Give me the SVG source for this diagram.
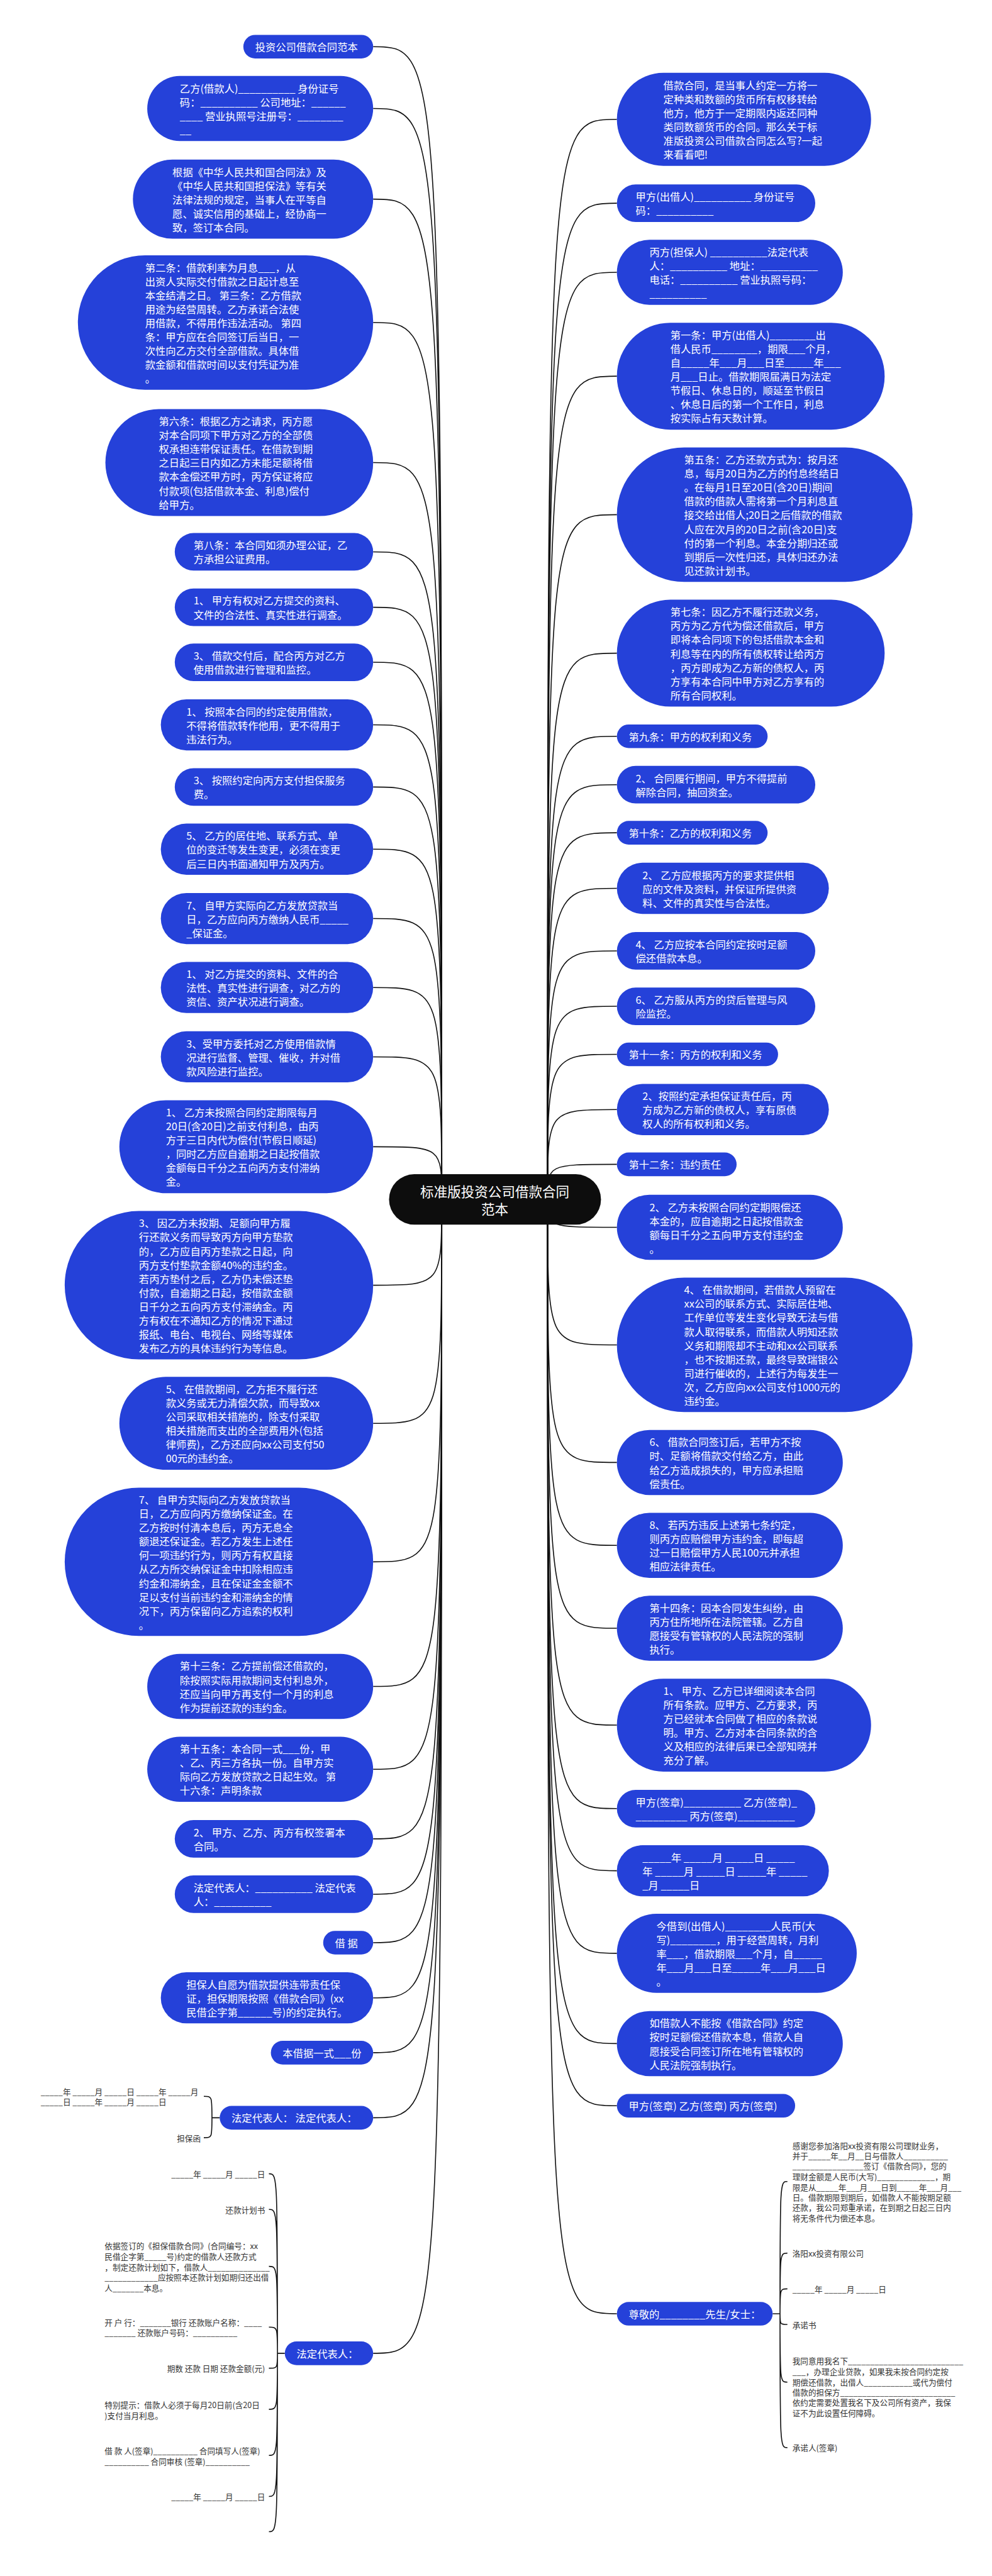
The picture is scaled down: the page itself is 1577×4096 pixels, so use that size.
<svg xmlns="http://www.w3.org/2000/svg" width="1577" height="4096" viewBox="0 0 1577 4096" xml:space="preserve">
<style>
.n{fill:#2541d9}
.r{fill:#0d0d0d}
.t{font-family:"Noto Sans CJK SC","Noto Sans",sans-serif;font-size:26.5px;fill:#fff;dominant-baseline:central}
.rt{font-family:"Noto Sans CJK SC","Noto Sans",sans-serif;font-size:35px;fill:#fff;dominant-baseline:central;text-anchor:middle}
.s{font-family:"Noto Sans CJK SC","Noto Sans",sans-serif;font-size:20.5px;fill:#333;dominant-baseline:central}
.e{text-anchor:end}
.c{fill:none;stroke:#111;stroke-width:2.6}
</style>
<rect width="1577" height="4096" fill="#fff"/>
<g transform="scale(0.616)">
<g id="connectors" class="c">
<path d="M1140 3096C1140 120.5 1140 120.5 963 120.5"/>
<path d="M1140 3096C1140 280 1140 280 963 280"/>
<path d="M1140 3096C1140 514 1140 514 963 514"/>
<path d="M1140 3096C1140 832.5 1140 832.5 963 832.5"/>
<path d="M1140 3096C1140 1194 1140 1194 963 1194"/>
<path d="M1140 3096C1140 1424.5 1140 1424.5 963 1424.5"/>
<path d="M1140 3096C1140 1567.5 1140 1567.5 963 1567.5"/>
<path d="M1140 3096C1140 1709.5 1140 1709.5 963 1709.5"/>
<path d="M1140 3096C1140 1871 1140 1871 963 1871"/>
<path d="M1140 3096C1140 2031.5 1140 2031.5 963 2031.5"/>
<path d="M1140 3096C1140 2192 1140 2192 963 2192"/>
<path d="M1140 3096C1140 2371 1140 2371 963 2371"/>
<path d="M1140 3096C1140 2549 1140 2549 963 2549"/>
<path d="M1140 3096C1140 2728 1140 2728 963 2728"/>
<path d="M1140 3096C1140 2960 1140 2960 963 2960"/>
<path d="M1140 3096C1140 3317.5 1140 3317.5 963 3317.5"/>
<path d="M1140 3096C1140 3674 1140 3674 963 3674"/>
<path d="M1140 3096C1140 4031.5 1140 4031.5 963 4031.5"/>
<path d="M1140 3096C1140 4353 1140 4353 963 4353"/>
<path d="M1140 3096C1140 4567 1140 4567 963 4567"/>
<path d="M1140 3096C1140 4746.5 1140 4746.5 963 4746.5"/>
<path d="M1140 3096C1140 4889.5 1140 4889.5 963 4889.5"/>
<path d="M1140 3096C1140 5014.5 1140 5014.5 963 5014.5"/>
<path d="M1140 3096C1140 5157 1140 5157 963 5157"/>
<path d="M1140 3096C1140 5298.5 1140 5298.5 963 5298.5"/>
<path d="M1140 3096C1140 5466.5 1140 5466.5 963 5466.5"/>
<path d="M1140 3096C1140 6074.5 1140 6074.5 963 6074.5"/>
<path d="M1413 3096C1413 308 1413 308 1592 308"/>
<path d="M1413 3096C1413 524.5 1413 524.5 1592 524.5"/>
<path d="M1413 3096C1413 703 1413 703 1592 703"/>
<path d="M1413 3096C1413 971 1413 971 1592 971"/>
<path d="M1413 3096C1413 1328.5 1413 1328.5 1592 1328.5"/>
<path d="M1413 3096C1413 1686 1413 1686 1592 1686"/>
<path d="M1413 3096C1413 1900.5 1413 1900.5 1592 1900.5"/>
<path d="M1413 3096C1413 2025.5 1413 2025.5 1592 2025.5"/>
<path d="M1413 3096C1413 2149.5 1413 2149.5 1592 2149.5"/>
<path d="M1413 3096C1413 2293 1413 2293 1592 2293"/>
<path d="M1413 3096C1413 2454.5 1413 2454.5 1592 2454.5"/>
<path d="M1413 3096C1413 2597.5 1413 2597.5 1592 2597.5"/>
<path d="M1413 3096C1413 2721.5 1413 2721.5 1592 2721.5"/>
<path d="M1413 3096C1413 2864 1413 2864 1592 2864"/>
<path d="M1413 3096C1413 3005.5 1413 3005.5 1592 3005.5"/>
<path d="M1413 3096C1413 3168 1413 3168 1592 3168"/>
<path d="M1413 3096C1413 3471.5 1413 3471.5 1592 3471.5"/>
<path d="M1413 3096C1413 3775 1413 3775 1592 3775"/>
<path d="M1413 3096C1413 3989 1413 3989 1592 3989"/>
<path d="M1413 3096C1413 4203 1413 4203 1592 4203"/>
<path d="M1413 3096C1413 4453 1413 4453 1592 4453"/>
<path d="M1413 3096C1413 4668.5 1413 4668.5 1592 4668.5"/>
<path d="M1413 3096C1413 4829 1413 4829 1592 4829"/>
<path d="M1413 3096C1413 5042 1413 5042 1592 5042"/>
<path d="M1413 3096C1413 5275 1413 5275 1592 5275"/>
<path d="M1413 3096C1413 5435.5 1413 5435.5 1592 5435.5"/>
<path d="M1413 3096C1413 5972.5 1413 5972.5 1592 5972.5"/>
<path d="M567 5466.5H547M547 5466.5C547 5411 547 5411 526 5411M547 5466.5C547 5518 547 5518 526 5518"/>
<path d="M735 6074.5H716M716 6074.5C716 5611 716 5611 694 5611M716 6074.5C716 5703 716 5703 694 5703M716 6074.5C716 5850 716 5850 694 5850M716 6074.5C716 6007 716 6007 694 6007M716 6074.5C716 6113 716 6113 694 6113M716 6074.5C716 6219 716 6219 694 6219M716 6074.5C716 6338 716 6338 694 6338M716 6074.5C716 6444 716 6444 694 6444M716 6074.5C716 6535 716 6535 694 6535"/>
<path d="M1994 5972.5H2013M2013 5972.5C2013 5631 2013 5631 2032 5631M2013 5972.5C2013 5816 2013 5816 2032 5816M2013 5972.5C2013 5908 2013 5908 2032 5908M2013 5972.5C2013 6000 2013 6000 2032 6000M2013 5972.5C2013 6149 2013 6149 2032 6149M2013 5972.5C2013 6318 2013 6318 2032 6318"/>
</g>
<g id="root"><rect class="r" x="1004" y="3031" width="547" height="130" rx="65"/><text class="rt"><tspan x="1277" y="3073">标准版投资公司借款合同</tspan><tspan x="1277" y="3119">范本</tspan></text></g>
<g id="L1"><rect class="n" x="628" y="90" width="335" height="61" rx="30.5"/><text class="t"><tspan x="658.5" y="120.5"> 投资公司借款合同范本</tspan></text></g>
<g id="L2"><rect class="n" x="380" y="196" width="583" height="168" rx="84"/><text class="t"><tspan x="464" y="226.5"> 乙方(借款人)__________ 身份证号</tspan><tspan x="464" y="262.3">码：__________ 公司地址：______</tspan><tspan x="464" y="298.1">____ 营业执照号注册号：________</tspan><tspan x="464" y="333.9">__</tspan></text></g>
<g id="L3"><rect class="n" x="343" y="412" width="620" height="204" rx="102"/><text class="t"><tspan x="445" y="442.5"> 根据《中华人民共和国合同法》及</tspan><tspan x="445" y="478.3">《中华人民共和国担保法》等有关</tspan><tspan x="445" y="514.1">法律法规的规定，当事人在平等自</tspan><tspan x="445" y="549.9">愿、诚实信用的基础上，经协商一</tspan><tspan x="445" y="585.7">致，签订本合同。</tspan></text></g>
<g id="L4"><rect class="n" x="201" y="659" width="762" height="347" rx="173.5"/><text class="t"><tspan x="374.5" y="689.5"> 第二条：借款利率为月息___，从</tspan><tspan x="374.5" y="725.3">出资人实际交付借款之日起计息至</tspan><tspan x="374.5" y="761.1">本金结清之日。 第三条：乙方借款</tspan><tspan x="374.5" y="796.9">用途为经营周转。乙方承诺合法使</tspan><tspan x="374.5" y="832.7">用借款，不得用作违法活动。 第四</tspan><tspan x="374.5" y="868.5">条：甲方应在合同签订后当日，一</tspan><tspan x="374.5" y="904.3">次性向乙方交付全部借款。具体借</tspan><tspan x="374.5" y="940.1">款金额和借款时间以支付凭证为准</tspan><tspan x="374.5" y="975.9">。</tspan></text></g>
<g id="L5"><rect class="n" x="272" y="1056" width="691" height="276" rx="138"/><text class="t"><tspan x="410" y="1086.5"> 第六条：根据乙方之请求，丙方愿</tspan><tspan x="410" y="1122.3">对本合同项下甲方对乙方的全部债</tspan><tspan x="410" y="1158.1">权承担连带保证责任。在借款到期</tspan><tspan x="410" y="1193.9">之日起三日内如乙方未能足额将借</tspan><tspan x="410" y="1229.7">款本金偿还甲方时，丙方保证将应</tspan><tspan x="410" y="1265.5">付款项(包括借款本金、利息)偿付</tspan><tspan x="410" y="1301.3">给甲方。</tspan></text></g>
<g id="L6"><rect class="n" x="451" y="1376" width="512" height="97" rx="48.5"/><text class="t"><tspan x="499.5" y="1406.5"> 第八条：本合同如须办理公证，乙</tspan><tspan x="499.5" y="1442.3">方承担公证费用。</tspan></text></g>
<g id="L7"><rect class="n" x="451" y="1519" width="512" height="97" rx="48.5"/><text class="t"><tspan x="499.5" y="1549.5"> 1、 甲方有权对乙方提交的资料、</tspan><tspan x="499.5" y="1585.3">文件的合法性、真实性进行调查。</tspan></text></g>
<g id="L8"><rect class="n" x="451" y="1661" width="512" height="97" rx="48.5"/><text class="t"><tspan x="499.5" y="1691.5"> 3、 借款交付后，配合丙方对乙方</tspan><tspan x="499.5" y="1727.3">使用借款进行管理和监控。</tspan></text></g>
<g id="L9"><rect class="n" x="415" y="1805" width="548" height="132" rx="66"/><text class="t"><tspan x="481" y="1835.5"> 1、 按照本合同的约定使用借款，</tspan><tspan x="481" y="1871.3">不得将借款转作他用，更不得用于</tspan><tspan x="481" y="1907.1">违法行为。</tspan></text></g>
<g id="L10"><rect class="n" x="451" y="1983" width="512" height="97" rx="48.5"/><text class="t"><tspan x="499.5" y="2013.5"> 3、 按照约定向丙方支付担保服务</tspan><tspan x="499.5" y="2049.3">费。</tspan></text></g>
<g id="L11"><rect class="n" x="415" y="2126" width="548" height="132" rx="66"/><text class="t"><tspan x="481" y="2156.5"> 5、 乙方的居住地、联系方式、单</tspan><tspan x="481" y="2192.3">位的变迁等发生变更，必须在变更</tspan><tspan x="481" y="2228.1">后三日内书面通知甲方及丙方。</tspan></text></g>
<g id="L12"><rect class="n" x="415" y="2305" width="548" height="132" rx="66"/><text class="t"><tspan x="481" y="2335.5"> 7、 自甲方实际向乙方发放贷款当</tspan><tspan x="481" y="2371.3">日，乙方应向丙方缴纳人民币_____</tspan><tspan x="481" y="2407.1">_保证金。</tspan></text></g>
<g id="L13"><rect class="n" x="415" y="2483" width="548" height="132" rx="66"/><text class="t"><tspan x="481" y="2513.5"> 1、 对乙方提交的资料、文件的合</tspan><tspan x="481" y="2549.3">法性、真实性进行调查，对乙方的</tspan><tspan x="481" y="2585.1">资信、资产状况进行调查。</tspan></text></g>
<g id="L14"><rect class="n" x="415" y="2662" width="548" height="132" rx="66"/><text class="t"><tspan x="481" y="2692.5"> 3、受甲方委托对乙方使用借款情</tspan><tspan x="481" y="2728.3">况进行监督、管理、催收，并对借</tspan><tspan x="481" y="2764.1">款风险进行监控。</tspan></text></g>
<g id="L15"><rect class="n" x="308" y="2840" width="655" height="240" rx="120"/><text class="t"><tspan x="428" y="2870.5"> 1、 乙方未按照合同约定期限每月</tspan><tspan x="428" y="2906.3">20日(含20日)之前支付利息，由丙</tspan><tspan x="428" y="2942.1">方于三日内代为偿付(节假日顺延)</tspan><tspan x="428" y="2977.9">，同时乙方应自逾期之日起按借款</tspan><tspan x="428" y="3013.7">金额每日千分之五向丙方支付滞纳</tspan><tspan x="428" y="3049.5">金。</tspan></text></g>
<g id="L16"><rect class="n" x="167" y="3126" width="796" height="383" rx="191.5"/><text class="t"><tspan x="358.5" y="3156.5"> 3、 因乙方未按期、足额向甲方履</tspan><tspan x="358.5" y="3192.3">行还款义务而导致丙方向甲方垫款</tspan><tspan x="358.5" y="3228.1">的，乙方应自丙方垫款之日起，向</tspan><tspan x="358.5" y="3263.9">丙方支付垫款金额40%的违约金。</tspan><tspan x="358.5" y="3299.7">若丙方垫付之后，乙方仍未偿还垫</tspan><tspan x="358.5" y="3335.5">付款，自逾期之日起，按借款金额</tspan><tspan x="358.5" y="3371.3">日千分之五向丙方支付滞纳金。丙</tspan><tspan x="358.5" y="3407.1">方有权在不通知乙方的情况下通过</tspan><tspan x="358.5" y="3442.9">报纸、电台、电视台、网络等媒体</tspan><tspan x="358.5" y="3478.7">发布乙方的具体违约行为等信息。</tspan></text></g>
<g id="L17"><rect class="n" x="308" y="3554" width="655" height="240" rx="120"/><text class="t"><tspan x="428" y="3584.5"> 5、 在借款期间，乙方拒不履行还</tspan><tspan x="428" y="3620.3">款义务或无力清偿欠款，而导致xx</tspan><tspan x="428" y="3656.1">公司采取相关措施的，除支付采取</tspan><tspan x="428" y="3691.9">相关措施而支出的全部费用外(包括</tspan><tspan x="428" y="3727.7">律师费)，乙方还应向xx公司支付50</tspan><tspan x="428" y="3763.5">00元的违约金。</tspan></text></g>
<g id="L18"><rect class="n" x="167" y="3840" width="796" height="383" rx="191.5"/><text class="t"><tspan x="358.5" y="3870.5"> 7、 自甲方实际向乙方发放贷款当</tspan><tspan x="358.5" y="3906.3">日，乙方应向丙方缴纳保证金。在</tspan><tspan x="358.5" y="3942.1">乙方按时付清本息后，丙方无息全</tspan><tspan x="358.5" y="3977.9">额退还保证金。若乙方发生上述任</tspan><tspan x="358.5" y="4013.7">何一项违约行为，则丙方有权直接</tspan><tspan x="358.5" y="4049.5">从乙方所交纳保证金中扣除相应违</tspan><tspan x="358.5" y="4085.3">约金和滞纳金，且在保证金金额不</tspan><tspan x="358.5" y="4121.1">足以支付当前违约金和滞纳金的情</tspan><tspan x="358.5" y="4156.9">况下，丙方保留向乙方追索的权利</tspan><tspan x="358.5" y="4192.7">。</tspan></text></g>
<g id="L19"><rect class="n" x="380" y="4269" width="583" height="168" rx="84"/><text class="t"><tspan x="464" y="4299.5"> 第十三条：乙方提前偿还借款的，</tspan><tspan x="464" y="4335.3">除按照实际用款期间支付利息外，</tspan><tspan x="464" y="4371.1">还应当向甲方再支付一个月的利息</tspan><tspan x="464" y="4406.9">作为提前还款的违约金。</tspan></text></g>
<g id="L20"><rect class="n" x="380" y="4483" width="583" height="168" rx="84"/><text class="t"><tspan x="464" y="4513.5"> 第十五条：本合同一式___份，甲</tspan><tspan x="464" y="4549.3">、乙、丙三方各执一份。自甲方实</tspan><tspan x="464" y="4585.1">际向乙方发放贷款之日起生效。 第</tspan><tspan x="464" y="4620.9">十六条：声明条款</tspan></text></g>
<g id="L21"><rect class="n" x="451" y="4698" width="512" height="97" rx="48.5"/><text class="t"><tspan x="499.5" y="4728.5"> 2、 甲方、乙方、丙方有权签署本</tspan><tspan x="499.5" y="4764.3">合同。</tspan></text></g>
<g id="L22"><rect class="n" x="451" y="4841" width="512" height="97" rx="48.5"/><text class="t"><tspan x="499.5" y="4871.5"> 法定代表人：__________ 法定代表</tspan><tspan x="499.5" y="4907.3">人：__________</tspan></text></g>
<g id="L23"><rect class="n" x="834" y="4984" width="129" height="61" rx="30.5"/><text class="t"><tspan x="864.5" y="5014.5"> 借 据</tspan></text></g>
<g id="L24"><rect class="n" x="415" y="5091" width="548" height="132" rx="66"/><text class="t"><tspan x="481" y="5121.5"> 担保人自愿为借款提供连带责任保</tspan><tspan x="481" y="5157.3">证，担保期限按照《借款合同》(xx</tspan><tspan x="481" y="5193.1">民借企字第______号)的约定执行。</tspan></text></g>
<g id="L25"><rect class="n" x="699" y="5268" width="264" height="61" rx="30.5"/><text class="t"><tspan x="729.5" y="5298.5"> 本借据一式___份</tspan></text></g>
<g id="L26"><rect class="n" x="567" y="5436" width="396" height="61" rx="30.5"/><text class="t"><tspan x="597.5" y="5466.5"> 法定代表人： 法定代表人：</tspan></text></g>
<g id="L27"><rect class="n" x="735" y="6044" width="228" height="61" rx="30.5"/><text class="t"><tspan x="765.5" y="6074.5"> 法定代表人：</tspan></text></g>
<g id="R1"><rect class="n" x="1592" y="188" width="656" height="240" rx="120"/><text class="t"><tspan x="1712" y="218.5"> 借款合同，是当事人约定一方将一</tspan><tspan x="1712" y="254.3">定种类和数额的货币所有权移转给</tspan><tspan x="1712" y="290.1">他方，他方于一定期限内返还同种</tspan><tspan x="1712" y="325.9">类同数额货币的合同。那么关于标</tspan><tspan x="1712" y="361.7">准版投资公司借款合同怎么写?一起</tspan><tspan x="1712" y="397.5">来看看吧!</tspan></text></g>
<g id="R2"><rect class="n" x="1592" y="476" width="512" height="97" rx="48.5"/><text class="t"><tspan x="1640.5" y="506.5"> 甲方(出借人)__________ 身份证号</tspan><tspan x="1640.5" y="542.3">码：__________</tspan></text></g>
<g id="R3"><rect class="n" x="1592" y="619" width="583" height="168" rx="84"/><text class="t"><tspan x="1676" y="649.5"> 丙方(担保人) __________法定代表</tspan><tspan x="1676" y="685.3">人：__________ 地址：__________</tspan><tspan x="1676" y="721.1">电话：__________ 营业执照号码：</tspan><tspan x="1676" y="756.9">__________</tspan></text></g>
<g id="R4"><rect class="n" x="1592" y="833" width="691" height="276" rx="138"/><text class="t"><tspan x="1730" y="863.5"> 第一条：甲方(出借人)________出</tspan><tspan x="1730" y="899.3">借人民币________，期限___个月，</tspan><tspan x="1730" y="935.1">自_____年___月___日至_____年___</tspan><tspan x="1730" y="970.9">月___日止。借款期限届满日为法定</tspan><tspan x="1730" y="1006.7">节假日、休息日的，顺延至节假日</tspan><tspan x="1730" y="1042.5">、休息日后的第一个工作日，利息</tspan><tspan x="1730" y="1078.3">按实际占有天数计算。</tspan></text></g>
<g id="R5"><rect class="n" x="1592" y="1155" width="763" height="347" rx="173.5"/><text class="t"><tspan x="1765.5" y="1185.5"> 第五条：乙方还款方式为：按月还</tspan><tspan x="1765.5" y="1221.3">息，每月20日为乙方的付息终结日</tspan><tspan x="1765.5" y="1257.1">。在每月1日至20日(含20日)期间</tspan><tspan x="1765.5" y="1292.9">借款的借款人需将第一个月利息直</tspan><tspan x="1765.5" y="1328.7">接交给出借人;20日之后借款的借款</tspan><tspan x="1765.5" y="1364.5">人应在次月的20日之前(含20日)支</tspan><tspan x="1765.5" y="1400.3">付的第一个利息。本金分期归还或</tspan><tspan x="1765.5" y="1436.1">到期后一次性归还，具体归还办法</tspan><tspan x="1765.5" y="1471.9">见还款计划书。</tspan></text></g>
<g id="R6"><rect class="n" x="1592" y="1548" width="691" height="276" rx="138"/><text class="t"><tspan x="1730" y="1578.5"> 第七条：因乙方不履行还款义务，</tspan><tspan x="1730" y="1614.3">丙方为乙方代为偿还借款后，甲方</tspan><tspan x="1730" y="1650.1">即将本合同项下的包括借款本金和</tspan><tspan x="1730" y="1685.9">利息等在内的所有债权转让给丙方</tspan><tspan x="1730" y="1721.7">，丙方即成为乙方新的债权人，丙</tspan><tspan x="1730" y="1757.5">方享有本合同中甲方对乙方享有的</tspan><tspan x="1730" y="1793.3">所有合同权利。</tspan></text></g>
<g id="R7"><rect class="n" x="1592" y="1870" width="389" height="61" rx="30.5"/><text class="t"><tspan x="1622.5" y="1900.5"> 第九条：甲方的权利和义务</tspan></text></g>
<g id="R8"><rect class="n" x="1592" y="1977" width="512" height="97" rx="48.5"/><text class="t"><tspan x="1640.5" y="2007.5"> 2、 合同履行期间，甲方不得提前</tspan><tspan x="1640.5" y="2043.3">解除合同，抽回资金。</tspan></text></g>
<g id="R9"><rect class="n" x="1592" y="2119" width="389" height="61" rx="30.5"/><text class="t"><tspan x="1622.5" y="2149.5"> 第十条：乙方的权利和义务</tspan></text></g>
<g id="R10"><rect class="n" x="1592" y="2227" width="547" height="132" rx="66"/><text class="t"><tspan x="1658" y="2257.5"> 2、 乙方应根据丙方的要求提供相</tspan><tspan x="1658" y="2293.3">应的文件及资料，并保证所提供资</tspan><tspan x="1658" y="2329.1">料、文件的真实性与合法性。</tspan></text></g>
<g id="R11"><rect class="n" x="1592" y="2406" width="512" height="97" rx="48.5"/><text class="t"><tspan x="1640.5" y="2436.5"> 4、 乙方应按本合同约定按时足额</tspan><tspan x="1640.5" y="2472.3">偿还借款本息。</tspan></text></g>
<g id="R12"><rect class="n" x="1592" y="2549" width="512" height="97" rx="48.5"/><text class="t"><tspan x="1640.5" y="2579.5"> 6、 乙方服从丙方的贷后管理与风</tspan><tspan x="1640.5" y="2615.3">险监控。</tspan></text></g>
<g id="R13"><rect class="n" x="1592" y="2691" width="416" height="61" rx="30.5"/><text class="t"><tspan x="1622.5" y="2721.5"> 第十一条：丙方的权利和义务</tspan></text></g>
<g id="R14"><rect class="n" x="1592" y="2798" width="547" height="132" rx="66"/><text class="t"><tspan x="1658" y="2828.5"> 2、按照约定承担保证责任后，丙</tspan><tspan x="1658" y="2864.3">方成为乙方新的债权人，享有原债</tspan><tspan x="1658" y="2900.1">权人的所有权利和义务。</tspan></text></g>
<g id="R15"><rect class="n" x="1592" y="2975" width="309" height="61" rx="30.5"/><text class="t"><tspan x="1622.5" y="3005.5"> 第十二条：违约责任</tspan></text></g>
<g id="R16"><rect class="n" x="1592" y="3084" width="583" height="168" rx="84"/><text class="t"><tspan x="1676" y="3114.5"> 2、 乙方未按照合同约定期限偿还</tspan><tspan x="1676" y="3150.3">本金的，应自逾期之日起按借款金</tspan><tspan x="1676" y="3186.1">额每日千分之五向甲方支付违约金</tspan><tspan x="1676" y="3221.9">。</tspan></text></g>
<g id="R17"><rect class="n" x="1592" y="3298" width="763" height="347" rx="173.5"/><text class="t"><tspan x="1765.5" y="3328.5"> 4、 在借款期间，若借款人预留在</tspan><tspan x="1765.5" y="3364.3">xx公司的联系方式、实际居住地、</tspan><tspan x="1765.5" y="3400.1">工作单位等发生变化导致无法与借</tspan><tspan x="1765.5" y="3435.9">款人取得联系，而借款人明知还款</tspan><tspan x="1765.5" y="3471.7">义务和期限却不主动和xx公司联系</tspan><tspan x="1765.5" y="3507.5">，也不按期还款，最终导致瑞银公</tspan><tspan x="1765.5" y="3543.3">司进行催收的，上述行为每发生一</tspan><tspan x="1765.5" y="3579.1">次，乙方应向xx公司支付1000元的</tspan><tspan x="1765.5" y="3614.9">违约金。</tspan></text></g>
<g id="R18"><rect class="n" x="1592" y="3691" width="583" height="168" rx="84"/><text class="t"><tspan x="1676" y="3721.5"> 6、 借款合同签订后，若甲方不按</tspan><tspan x="1676" y="3757.3">时、足额将借款交付给乙方，由此</tspan><tspan x="1676" y="3793.1">给乙方造成损失的，甲方应承担赔</tspan><tspan x="1676" y="3828.9">偿责任。</tspan></text></g>
<g id="R19"><rect class="n" x="1592" y="3905" width="583" height="168" rx="84"/><text class="t"><tspan x="1676" y="3935.5"> 8、 若丙方违反上述第七条约定，</tspan><tspan x="1676" y="3971.3">则丙方应赔偿甲方违约金，即每超</tspan><tspan x="1676" y="4007.1">过一日赔偿甲方人民100元并承担</tspan><tspan x="1676" y="4042.9">相应法律责任。</tspan></text></g>
<g id="R20"><rect class="n" x="1592" y="4119" width="583" height="168" rx="84"/><text class="t"><tspan x="1676" y="4149.5"> 第十四条：因本合同发生纠纷，由</tspan><tspan x="1676" y="4185.3">丙方住所地所在法院管辖。乙方自</tspan><tspan x="1676" y="4221.1">愿接受有管辖权的人民法院的强制</tspan><tspan x="1676" y="4256.9">执行。</tspan></text></g>
<g id="R21"><rect class="n" x="1592" y="4333" width="656" height="240" rx="120"/><text class="t"><tspan x="1712" y="4363.5"> 1、 甲方、乙方已详细阅读本合同</tspan><tspan x="1712" y="4399.3">所有条款。应甲方、乙方要求，丙</tspan><tspan x="1712" y="4435.1">方已经就本合同做了相应的条款说</tspan><tspan x="1712" y="4470.9">明。甲方、乙方对本合同条款的含</tspan><tspan x="1712" y="4506.7">义及相应的法律后果已全部知晓并</tspan><tspan x="1712" y="4542.5">充分了解。</tspan></text></g>
<g id="R22"><rect class="n" x="1592" y="4620" width="512" height="97" rx="48.5"/><text class="t"><tspan x="1640.5" y="4650.5"> 甲方(签章)__________ 乙方(签章)_</tspan><tspan x="1640.5" y="4686.3">_________ 丙方(签章)__________</tspan></text></g>
<g id="R23"><rect class="n" x="1592" y="4763" width="547" height="132" rx="66"/><text class="t"><tspan x="1658" y="4793.5"> _____年 _____月 _____日 _____</tspan><tspan x="1658" y="4829.3">年 _____月 _____日 _____年 _____</tspan><tspan x="1658" y="4865.1">_月 _____日</tspan></text></g>
<g id="R24"><rect class="n" x="1592" y="4940" width="619" height="204" rx="102"/><text class="t"><tspan x="1694" y="4970.5"> 今借到(出借人)________人民币(大</tspan><tspan x="1694" y="5006.3">写)________，用于经营周转，月利</tspan><tspan x="1694" y="5042.1">率___，借款期限___个月，自_____</tspan><tspan x="1694" y="5077.9">年___月___日至_____年___月___日</tspan><tspan x="1694" y="5113.7">。</tspan></text></g>
<g id="R25"><rect class="n" x="1592" y="5191" width="583" height="168" rx="84"/><text class="t"><tspan x="1676" y="5221.5"> 如借款人不能按《借款合同》约定</tspan><tspan x="1676" y="5257.3">按时足额偿还借款本息，借款人自</tspan><tspan x="1676" y="5293.1">愿接受合同签订所在地有管辖权的</tspan><tspan x="1676" y="5328.9">人民法院强制执行。</tspan></text></g>
<g id="R26"><rect class="n" x="1592" y="5405" width="460" height="61" rx="30.5"/><text class="t"><tspan x="1622.5" y="5435.5"> 甲方(签章) 乙方(签章) 丙方(签章)</tspan></text></g>
<g id="R27"><rect class="n" x="1592" y="5942" width="402" height="61" rx="30.5"/><text class="t"><tspan x="1622.5" y="5972.5"> 尊敬的________先生/女士：</tspan></text></g>
<g id="B1-children"><text class="s"><tspan x="105" y="5397">_____年 _____月 _____日 _____年 _____月</tspan><tspan x="105" y="5424">_____日 _____年 _____月 _____日</tspan></text><text class="s e" x="518" y="5518">担保函</text></g>
<g id="B2-children">
<text class="s e" x="684" y="5611">_____年 _____月 _____日</text>
<text class="s e" x="684" y="5703">还款计划书</text>
<text class="s"><tspan x="270" y="5796"> 依据签订的《担保借款合同》(合同编号：xx</tspan><tspan x="270" y="5823">民借企字第_____号)约定的借款人还款方式</tspan><tspan x="270" y="5850">，制定还款计划如下，借款人______________</tspan><tspan x="270" y="5877">____________应按照本还款计划如期归还出借</tspan><tspan x="270" y="5904">人_______本息。</tspan></text>
<text class="s"><tspan x="270" y="5993"> 开 户 行：_______银行 还款账户名称：____</tspan><tspan x="270" y="6020">_______ 还款账户号码：__________</tspan></text>
<text class="s e" x="684" y="6113">期数 还款 日期 还款金额(元)</text>
<text class="s"><tspan x="270" y="6206"> 特别提示：借款人必须于每月20日前(含20日</tspan><tspan x="270" y="6233">)支付当月利息。</tspan></text>
<text class="s"><tspan x="270" y="6325"> 借 款 人(签章)__________ 合同填写人(签章)</tspan><tspan x="270" y="6352">__________ 合同审核 (签章)__________</tspan></text>
<text class="s e" x="684" y="6444">_____年 _____月 _____日</text>
</g>
<g id="B3-children">
<text class="s"><tspan x="2045" y="5537"> 感谢您参加洛阳xx投资有限公司理财业务，</tspan><tspan x="2045" y="5564">并于_____年__月__日与借款人__________</tspan><tspan x="2045" y="5590">________________签订《借款合同》，您的</tspan><tspan x="2045" y="5617">理财金额是人民币(大写)_____________，期</tspan><tspan x="2045" y="5644">限是从_____年___月___日到_____年___月___</tspan><tspan x="2045" y="5670">日。借款期限到期后，如借款人不能按期足额</tspan><tspan x="2045" y="5697">还款，我公司郑重承诺，在到期之日起三日内</tspan><tspan x="2045" y="5724">将无条件代为偿还本息。</tspan></text>
<text class="s" x="2045" y="5816"> 洛阳xx投资有限公司</text>
<text class="s" x="2045" y="5908"> _____年 _____月 _____日</text>
<text class="s" x="2045" y="6000"> 承诺书</text>
<text class="s"><tspan x="2045" y="6093"> 我同意用我名下__________________________</tspan><tspan x="2045" y="6120">___，办理企业贷款，如果我未按合同约定按</tspan><tspan x="2045" y="6147">期偿还借款，出借人___________或代为偿付</tspan><tspan x="2045" y="6173">借款的担保方__________________________</tspan><tspan x="2045" y="6200">依约定需要处置我名下及公司所有资产，我保</tspan><tspan x="2045" y="6227">证不为此设置任何障碍。</tspan></text>
<text class="s" x="2045" y="6318"> 承诺人(签章)</text>
</g>
</g>
</svg>
